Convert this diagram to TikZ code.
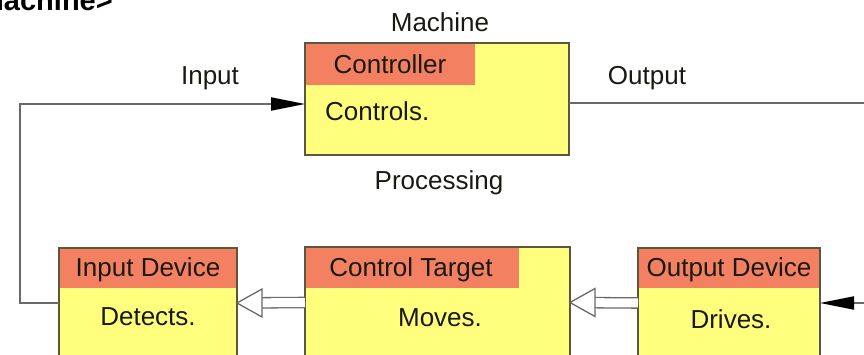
\documentclass[tikz,border=0pt]{standalone}
\usepackage{fontspec}
\setmainfont{Liberation Sans}
\usetikzlibrary{arrows.meta,calc}
\definecolor{boxyellow}{RGB}{255,255,125}
\definecolor{boxred}{RGB}{244,128,98}
\definecolor{boxedge}{RGB}{90,88,60}
\definecolor{linegray}{RGB}{105,105,105}
\definecolor{txt}{RGB}{25,25,20}
\tikzset{
  box/.style={draw=boxedge, line width=1.6pt, fill=boxyellow, anchor=north west, inner sep=0pt, outer sep=0pt},
  head/.style={fill=boxred, anchor=north west, inner sep=0pt, outer sep=0pt},
  lbl/.style={text=txt, font=\fontsize{26}{30}\selectfont, inner sep=0pt},
  conn/.style={draw=linegray, line width=1.8pt},
  blackarrow/.style={conn, -{Triangle[length=34pt,width=13pt,fill=black,color=black]}},
  dshaft/.style={draw=linegray, line width=1.3pt, double=white, double distance=9pt},
  hollowhead/.style={draw=linegray, line width=1.3pt, fill=white, line join=miter}
}
\begin{document}
\begin{tikzpicture}[x=1pt,y=-1pt]
\useasboundingbox (0,0) rectangle (864,355);
\clip (0,0) rectangle (864,355);
% title (cut off at top)
\node[anchor=base east, inner sep=0pt, text=black, font=\fontsize{29}{32}\selectfont\bfseries] (title) at (113,11) {<Machine>};
% top box
\node[box, minimum width=264pt, minimum height=112pt] (ctrl) at (305,43) {};
\node[head, minimum width=169pt, minimum height=41pt] (ctrlh) at ($(ctrl.north west)+(0.8,0.8)$) {};
\node[lbl] (ctrlt) at (390,64) {Controller};
\node[lbl, anchor=west] (ctrlc) at (325,111) {Controls.};
\node[lbl] (mach) at (440,22) {Machine};
\node[lbl] (proc) at (439,183) {Processing};
% bottom boxes
\node[box, minimum width=178pt, minimum height=110pt] (idev) at (59,248) {};
\node[head, minimum width=176.4pt, minimum height=39pt] (idevh) at ($(idev.north west)+(0.8,0.8)$) {};
\node[lbl] (idevt) at (148,270) {Input Device};
\node[lbl] (idevc) at (148,317) {Detects.};
\node[box, minimum width=265pt, minimum height=111pt] (ct) at (305,247) {};
\node[head, minimum width=213pt, minimum height=40pt] (cth) at ($(ct.north west)+(0.8,0.8)$) {};
\node[lbl] (ctt) at (411,270) {Control Target};
\node[lbl] (ctc) at (440,318) {Moves.};
\node[box, minimum width=182pt, minimum height=110pt] (odev) at (638,248) {};
\node[head, minimum width=180.4pt, minimum height=39pt] (odevh) at ($(odev.north west)+(0.8,0.8)$) {};
\node[lbl] (odevt) at (729,270) {Output Device};
\node[lbl] (odevc) at (731,319) {Drives.};
% labels on connectors
\node[lbl] (inl) at (210,78) {Input};
\node[lbl] (outl) at (647,78) {Output};
% helper coordinates
\coordinate (loopx) at (20,0);
\coordinate (redge) at (870,0);
\coordinate (ctrlin) at ($(ctrl.west)+(0,5)$);
\coordinate (ctrlout) at ($(ctrl.east)+(0,4)$);
% input loop
\draw[conn] (idev.west) -| (loopx |- ctrlin) -- ($(ctrlin)+(-30,0)$);
\draw[blackarrow] ($(ctrlin)+(-31,0)$) -- (ctrlin);
% output line
\draw[conn] (ctrlout) -- (ctrlout -| redge);
% arrow into output device
\draw[blackarrow] (redge |- odev.east) -- (odev.east);
% hollow arrows
\draw[dshaft, shorten >=24pt] (odev.west) -- (ct.east);
\draw[hollowhead] (ct.east) -- ++(25,-14) -- ++(0,28) -- cycle;
\draw[dshaft, shorten >=24pt] (ct.west) -- (idev.east);
\draw[hollowhead] (idev.east) -- ++(25,-14) -- ++(0,28) -- cycle;
\end{tikzpicture}
\end{document}
